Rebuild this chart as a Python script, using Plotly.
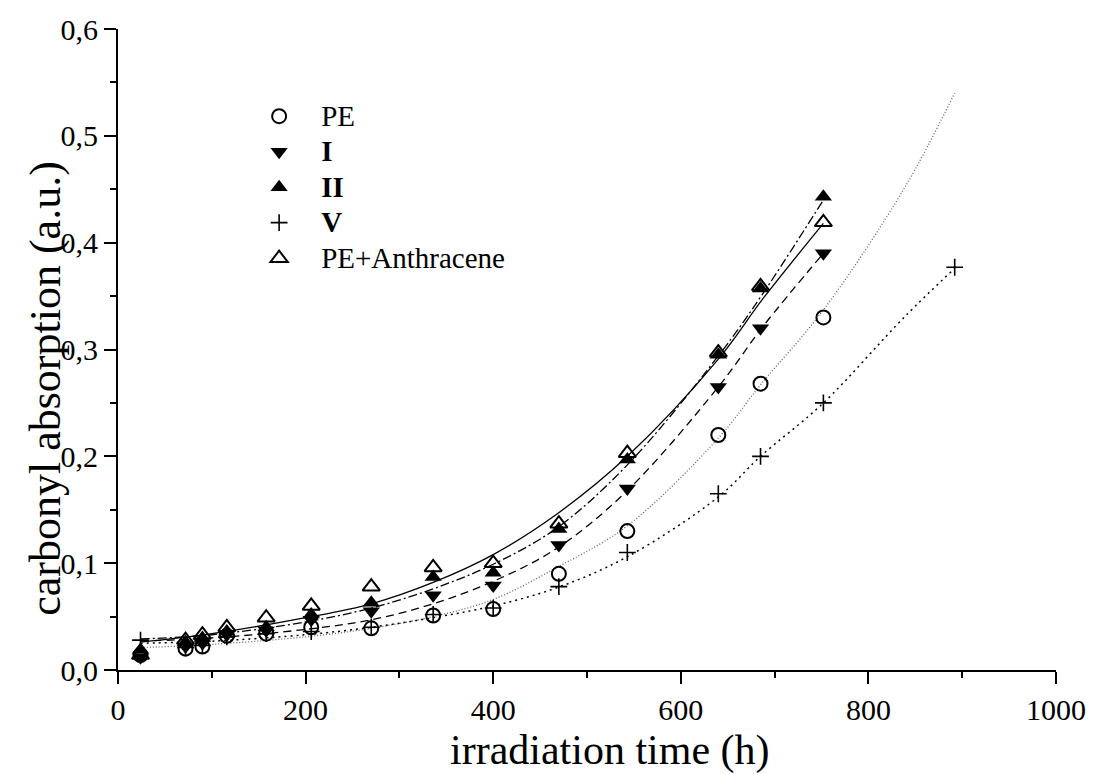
import plotly.graph_objects as go

# ---------------- data ----------------
t_pts = [24, 72, 90, 116, 158, 206, 270, 336, 400, 470, 543, 640, 685, 752]
pe_vals = [0.014, 0.020, 0.022, 0.032, 0.034, 0.040, 0.039, 0.051, 0.057, 0.090, 0.130, 0.220, 0.268, 0.330]
i_vals = [0.012, 0.022, 0.025, 0.033, 0.037, 0.047, 0.055, 0.070, 0.079, 0.117, 0.170, 0.265, 0.320, 0.390]
ii_vals = [0.019, 0.026, 0.030, 0.036, 0.040, 0.052, 0.063, 0.087, 0.091, 0.132, 0.197, 0.295, 0.357, 0.443]
anth_vals = [0.014, 0.028, 0.033, 0.040, 0.049, 0.060, 0.078, 0.096, 0.100, 0.137, 0.203, 0.297, 0.359, 0.419]
t_v = [24, 72, 90, 116, 158, 206, 270, 336, 400, 470, 543, 640, 685, 752, 892]
v_vals = [0.028, 0.021, 0.023, 0.031, 0.034, 0.036, 0.040, 0.052, 0.058, 0.078, 0.110, 0.165, 0.200, 0.250, 0.377]

# fitted curves
fit_t_short = [24, 100, 200, 270, 336, 400, 468, 543, 640, 688, 752]
fit_anth = [0.026, 0.034, 0.049, 0.062, 0.082, 0.108, 0.146, 0.200, 0.291, 0.348, 0.418]
fit_ii = [0.029, 0.033, 0.045, 0.058, 0.076, 0.099, 0.133, 0.192, 0.294, 0.353, 0.440]
fit_i = [0.027, 0.030, 0.038, 0.047, 0.062, 0.083, 0.114, 0.168, 0.265, 0.322, 0.390]
fit_t_long = [24, 100, 200, 270, 336, 400, 468, 543, 640, 685, 752, 839, 892]
fit_pe = [0.021, 0.024, 0.031, 0.039, 0.050, 0.066, 0.096, 0.135, 0.217, 0.267, 0.337, 0.452, 0.540]
fit_v = [0.025, 0.027, 0.033, 0.040, 0.049, 0.060, 0.077, 0.106, 0.162, 0.200, 0.250, 0.331, 0.376]

x_tickvals = [0, 200, 400, 600, 800, 1000]
x_ticktext = ["0", "200", "400", "600", "800", "1000"]
y_tickvals = [0.0, 0.1, 0.2, 0.3, 0.4, 0.5, 0.6]
y_ticktext = ["0,0", "0,1", "0,2", "0,3", "0,4", "0,5", "0,6"]

legend_names = ["PE", "<b>I</b>", "<b>II</b>", "<b>V</b>", "PE+Anthracene"]

FONT = "Liberation Serif, Times New Roman, serif"


def big(name):
    return '<span style="font-size:29px">' + name + "</span>"


fig = go.Figure()

# fit lines
fig.add_trace(go.Scatter(x=fit_t_long, y=fit_pe, mode="lines", showlegend=False, hoverinfo="skip",
                         line=dict(color="#666666", width=1.3, dash="1px,2px", shape="spline")))
fig.add_trace(go.Scatter(x=fit_t_long, y=fit_v, mode="lines", showlegend=False, hoverinfo="skip",
                         line=dict(color="black", width=1.5, dash="2px,4px", shape="spline")))
fig.add_trace(go.Scatter(x=fit_t_short, y=fit_i, mode="lines", showlegend=False, hoverinfo="skip",
                         line=dict(color="black", width=1.3, dash="8px,5px", shape="spline")))
fig.add_trace(go.Scatter(x=fit_t_short, y=fit_ii, mode="lines", showlegend=False, hoverinfo="skip",
                         line=dict(color="black", width=1.3, dash="9px,3px,2px,3px", shape="spline")))
fig.add_trace(go.Scatter(x=fit_t_short, y=fit_anth, mode="lines", showlegend=False, hoverinfo="skip",
                         line=dict(color="black", width=1.3, shape="spline")))

# data markers
fig.add_trace(go.Scatter(x=t_pts, y=pe_vals, mode="markers", name=big(legend_names[0]),
                         marker=dict(symbol="circle-open", size=14, color="black", line=dict(width=2, color="black"))))
fig.add_trace(go.Scatter(x=t_pts, y=i_vals, mode="markers", name=big(legend_names[1]),
                         marker=dict(symbol="triangle-down", size=15, color="black")))
fig.add_trace(go.Scatter(x=t_pts, y=ii_vals, mode="markers", name=big(legend_names[2]),
                         marker=dict(symbol="triangle-up", size=15, color="black")))
fig.add_trace(go.Scatter(x=t_v, y=v_vals, mode="markers", name=big(legend_names[3]),
                         marker=dict(symbol="cross-thin-open", size=12, color="black", line=dict(width=1.6, color="black"))))
fig.add_trace(go.Scatter(x=t_pts, y=anth_vals, mode="markers", name=big(legend_names[4]),
                         marker=dict(symbol="triangle-up-open", size=15, color="black", line=dict(width=2, color="black"))))

axis_common = dict(
    showline=True, linecolor="black", linewidth=2, mirror=False,
    ticks="outside", ticklen=12, tickwidth=2, tickcolor="black",
    showgrid=False, zeroline=False,
    tickfont=dict(family=FONT, size=30, color="black"),
)

fig.update_xaxes(range=[0, 1000], tickvals=x_tickvals, ticktext=x_ticktext,
                 minor=dict(dtick=100, ticklen=6, tickwidth=2, tickcolor="black", ticks="outside"),
                 **axis_common)
fig.update_yaxes(range=[0, 0.6], tickvals=y_tickvals, ticktext=y_ticktext,
                 minor=dict(dtick=0.05, ticklen=6, tickwidth=2, tickcolor="black", ticks="outside"),
                 **axis_common)

fig.update_layout(
    width=1098, height=774,
    margin=dict(l=118, r=36, t=24, b=104),
    paper_bgcolor="white", plot_bgcolor="white",
    font=dict(family=FONT, color="black"),
    showlegend=True,
    legend=dict(x=0.127, y=0.8995, xanchor="left", yanchor="top",
                font=dict(family=FONT, size=25, color="black"),
                itemwidth=74, bgcolor="rgba(0,0,0,0)", borderwidth=0,
                tracegroupgap=0),
    annotations=[
        dict(text="irradiation time (h)", xref="paper", yref="paper",
             x=0.525, y=-0.125, xanchor="center", yanchor="middle", showarrow=False,
             font=dict(family=FONT, size=42, color="black")),
        dict(text="carbonyl absorption (a.u.)", xref="paper", yref="paper",
             x=-0.077, y=0.44, xanchor="center", yanchor="middle", showarrow=False, textangle=-90,
             font=dict(family=FONT, size=44, color="black")),
    ],
)

fig.write_html("out.html", config={"displayModeBar": False})
